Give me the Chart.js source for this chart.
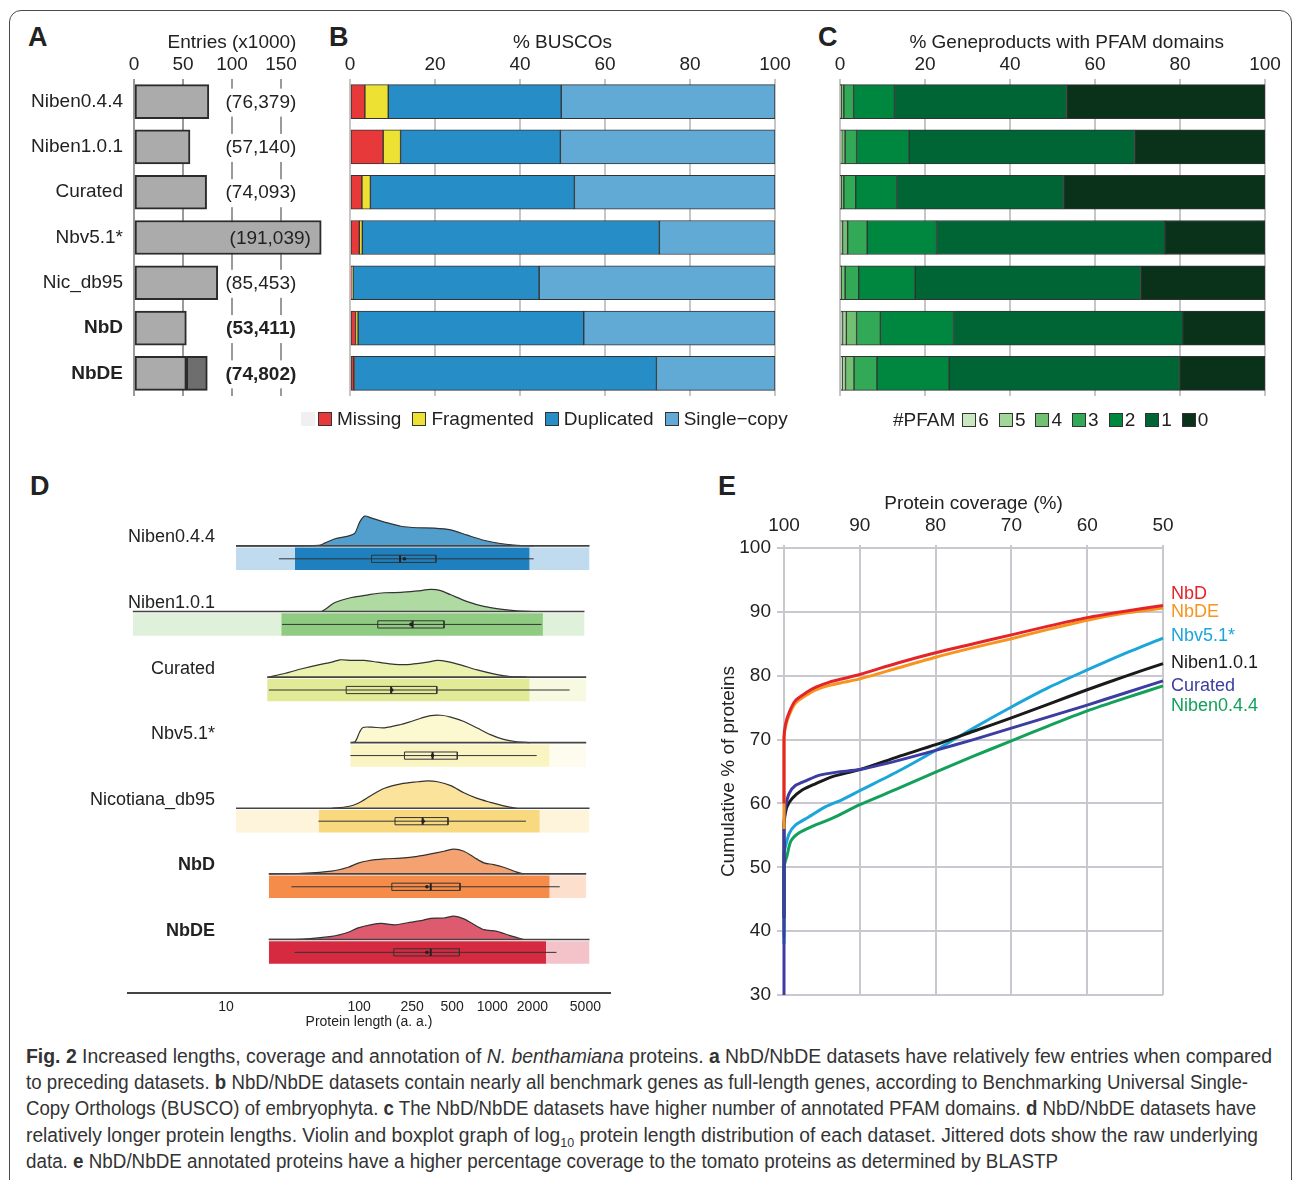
<!DOCTYPE html>
<html>
<head>
<meta charset="utf-8">
<script src="https://cdn.jsdelivr.net/npm/chart.js@4.4.1/dist/chart.umd.min.js"></script>
<style>
  body { margin: 0; background: #fff; }
  #fig { position: relative; width: 1293px; height: 1180px; overflow: hidden; font-family: "Liberation Sans", Arial, sans-serif; color: #222; }
  canvas { position: absolute; }
  .frame { position: absolute; left: 9px; top: 10px; width: 1281px; height: 1200px; border: 1.5px solid #4a4a4a; border-radius: 12px; }
  .letter { position: absolute; font-weight: bold; font-size: 27px; line-height: 1; }
  .legend { position: absolute; display: flex; align-items: center; height: 20px; font-size: 19px; white-space: nowrap; }
  .legend .box { width: 12px; height: 12px; border: 1px solid #333; margin-right: 4px; }
  .legend .item { display: flex; align-items: center; margin-right: 12px; }
  .elabel { position: absolute; font-size: 18px; line-height: 1; transform: translateY(-50%); white-space: nowrap; }
  .cap { position: absolute; left: 26px; white-space: nowrap; font-size: 20px; line-height: 1; color: #333; transform-origin: 0 50%; }
</style>
</head>
<body>
<div id="fig">
  <div class="frame"></div>
  <div class="letter" style="left:28px;top:24px">A</div>
  <div class="letter" style="left:329px;top:24px">B</div>
  <div class="letter" style="left:818px;top:24px">C</div>
  <div class="letter" style="left:30px;top:473px">D</div>
  <div class="letter" style="left:718px;top:473px">E</div>

  <canvas id="chartA" width="320" height="400" style="left:10px;top:20px"></canvas>
  <canvas id="chartB" width="470" height="400" style="left:330px;top:20px"></canvas>
  <canvas id="chartC" width="470" height="400" style="left:820px;top:20px"></canvas>
  <canvas id="chartD" width="594" height="560" style="left:20px;top:475px"></canvas>
  <canvas id="chartE" width="593" height="540" style="left:700px;top:470px"></canvas>

  <div class="legend" id="legendB" style="left:301px;top:409px"></div>
  <div class="legend" id="legendC" style="left:893px;top:410px"></div>
  <div id="labelsE"></div>

  <div class="cap" data-w="1246" style="top:1046px"><b>Fig. 2</b> Increased lengths, coverage and annotation of <i>N. benthamiana</i> proteins. <b>a</b> NbD/NbDE datasets have relatively few entries when compared</div>
  <div class="cap" data-w="1222" style="top:1072px">to preceding datasets. <b>b</b> NbD/NbDE datasets contain nearly all benchmark genes as full-length genes, according to Benchmarking Universal Single-</div>
  <div class="cap" data-w="1230" style="top:1098px">Copy Orthologs (BUSCO) of embryophyta. <b>c</b> The NbD/NbDE datasets have higher number of annotated PFAM domains. <b>d</b> NbD/NbDE datasets have</div>
  <div class="cap" data-w="1232" style="top:1125px">relatively longer protein lengths. Violin and boxplot graph of log<sub style="font-size:13px">10</sub> protein length distribution of each dataset. Jittered dots show the raw underlying</div>
  <div class="cap" data-w="1032" style="top:1151px">data. <b>e</b> NbD/NbDE annotated proteins have a higher percentage coverage to the tomato proteins as determined by BLASTP</div>
</div>

<script>
// ---- datos panel A: entradas por dataset ----
const datasetNames = ["Niben0.4.4", "Niben1.0.1", "Curated", "Nbv5.1*", "Nic_db95", "NbD", "NbDE"];
const entryCounts = [76379, 57140, 74093, 191039, 85453, 53411, 74802];
const nbdPartOfNbDE = 53411;

// ---- datos panel B: BUSCO (%) ----
const buscoCategories = ["Missing", "Fragmented", "Duplicated", "Single\u2212copy"];
const buscoMissing = [3.5, 7.8, 2.8, 2.2, 0.5, 1.3, 0.9];
const buscoFragmented = [5.5, 4.1, 2.0, 0.7, 0.2, 0.6, 0.1];
const buscoDuplicated = [40.7, 37.6, 48.0, 69.9, 43.8, 53.1, 71.1];
const buscoSingle = [50.3, 50.5, 47.2, 27.2, 55.5, 45.0, 27.9];
const buscoColors = ["#e8393a", "#ede234", "#268dc7", "#62aad6"];

// ---- datos panel C: numero de dominios PFAM (%) ----
const pfamClasses = ["6", "5", "4", "3", "2", "1", "0"];
const pfam6 = [0.1, 0.2, 0.1, 0.2, 0.1, 0.6, 0.5];
const pfam5 = [0.2, 0.2, 0.2, 0.4, 0.2, 0.9, 0.8];
const pfam4 = [0.6, 0.8, 0.6, 1.2, 0.9, 2.4, 2.0];
const pfam3 = [2.3, 2.7, 2.8, 4.6, 3.2, 5.6, 5.4];
const pfam2 = [9.6, 12.4, 9.6, 16.3, 13.3, 17.2, 17.0];
const pfam1 = [40.5, 53.0, 39.3, 53.8, 53.0, 54.0, 54.2];
const pfam0 = [46.7, 30.7, 47.4, 23.5, 29.3, 19.3, 20.1];
const pfamColors = ["#c9e8c2", "#a3d79a", "#72c172", "#32a957", "#00873f", "#006534", "#0a3119"];

// ---- datos panel D: longitud de proteinas (a.a.) ----
const groupNames = ["Niben0.4.4", "Niben1.0.1", "Curated", "Nbv5.1*", "Nicotiana_db95", "NbD", "NbDE"];
const lengthTicks = [10, 100, 250, 500, 1000, 2000, 5000];
const violinLengths = [
  [11.9, 49.5, 55.6, 65.9, 82.8, 92.9, 101, 110, 123, 155, 206, 275, 366, 487, 649, 864, 1149, 1528, 2033],
  [52.4, 57.1, 65.9, 87.7, 117, 155, 206, 275, 345, 410, 487, 649, 864, 1149, 1528, 2033],
  [21.0, 28.0, 37.2, 49.5, 62.2, 71.8, 87.7, 110, 138, 185, 245, 327, 388, 460, 578, 770, 1023, 1361, 1811],
  [87.7, 93.8, 101, 107, 124, 155, 206, 245, 291, 345, 410, 487, 612, 770, 967, 1216, 1528, 1920],
  [62.2, 82.8, 98.4, 124, 155, 206, 275, 327, 388, 487, 612, 770, 967, 1216, 1528],
  [21.0, 37.2, 62.2, 82.8, 98.4, 117, 155, 206, 275, 345, 434, 516, 612, 727, 864, 1023, 1216, 1528, 1714],
  [21.0, 37.2, 62.2, 82.8, 98.4, 124, 147, 185, 232, 291, 345, 434, 516, 612, 727, 864, 1084, 1361, 1714]
];
// densidad relativa (1 = pico mas alto)
const violinDensity = [
  [0, 0.02, 0.1, 0.24, 0.33, 0.43, 0.8, 1.0, 0.94, 0.8, 0.66, 0.61, 0.6, 0.54, 0.36, 0.19, 0.08, 0.02, 0],
  [0, 0.11, 0.3, 0.47, 0.56, 0.63, 0.64, 0.69, 0.74, 0.7, 0.56, 0.33, 0.17, 0.08, 0.02, 0],
  [0, 0.13, 0.28, 0.41, 0.5, 0.58, 0.56, 0.56, 0.5, 0.43, 0.43, 0.5, 0.56, 0.52, 0.41, 0.24, 0.11, 0.02, 0],
  [0, 0.04, 0.36, 0.51, 0.52, 0.5, 0.61, 0.71, 0.82, 0.91, 0.92, 0.86, 0.71, 0.49, 0.27, 0.11, 0.03, 0],
  [0, 0.06, 0.17, 0.44, 0.67, 0.82, 0.89, 0.92, 0.89, 0.76, 0.52, 0.33, 0.2, 0.08, 0],
  [0, 0.02, 0.09, 0.22, 0.36, 0.44, 0.5, 0.53, 0.59, 0.67, 0.76, 0.83, 0.76, 0.56, 0.37, 0.31, 0.22, 0.06, 0],
  [0, 0.01, 0.1, 0.24, 0.39, 0.5, 0.54, 0.49, 0.56, 0.63, 0.71, 0.72, 0.78, 0.69, 0.5, 0.33, 0.27, 0.13, 0]
];
const boxQ1 = [124, 138, 80, 219, 186, 176, 182];
const boxMedian = [203, 252, 174, 356, 300, 345, 345];
const boxQ3 = [377, 434, 383, 546, 465, 572, 567];
const boxMean = [219, 245, 176, 356, 303, 323, 323];
const whiskerLo = [25, 26.4, 21, 86, 49.5, 31, 32.8];
const whiskerHi = [2046, 2344, 3810, 2154, 1790, 3208, 3034];
const dotsLo = [33, 26, 20.4, 86, 49.5, 21, 21];
const dotsHi = [1910, 2400, 1910, 2700, 2275, 2700, 2550];
const tailLo = [11.9, 2.0, 20.4, 86, 11.9, 21, 21];
const tailHi = [5370, 4920, 5070, 5070, 5370, 5070, 5370];
const violinFill = ["#529fcd", "#afdba3", "#ebf2ad", "#fcf8d0", "#fbe39b", "#f5a273", "#de5b6f"];
const dotColors = ["#1f80c0", "#8fcb80", "#e1ea96", "#faf4c2", "#f9d980", "#f58c4a", "#d62a40"];

// ---- datos panel E: cobertura vs % acumulado ----
const eNames = ["NbD", "NbDE", "Nbv5.1*", "Niben1.0.1", "Curated", "Niben0.4.4"];
const eColors = ["#e3242b", "#f7941d", "#1ba5da", "#1a1a1a", "#3c3ca2", "#12a05a"];
const covNbD = [100, 100, 99.8, 99.3, 98.5, 97, 95.8, 94, 92, 90, 85, 80, 75, 70, 65, 60, 55, 50];
const cumNbD = [60, 70.3, 72.4, 74.3, 76.1, 77.4, 78.2, 79.0, 79.6, 80.2, 82.0, 83.6, 85.0, 86.4, 87.8, 89.1, 90.1, 91.0];
const covNbDE = [100, 100, 99.8, 99.3, 98.5, 97, 95.8, 94, 92, 90, 85, 80, 75, 70, 65, 60, 55, 50];
const cumNbDE = [56, 70, 72, 73.9, 75.7, 77.0, 77.8, 78.5, 79.0, 79.5, 81.2, 82.9, 84.4, 85.8, 87.3, 88.7, 89.8, 90.6];
const covNbv51 = [100, 100, 99.8, 99.3, 98.5, 96.7, 94.5, 92.3, 90, 85, 80, 75, 70, 65, 60, 55, 50];
const cumNbv51 = [38, 52, 53.3, 55.3, 56.6, 57.9, 59.5, 60.6, 62.0, 65.0, 68.3, 71.8, 75.1, 78.2, 80.9, 83.5, 85.9];
const covNiben101 = [100, 100, 99.9, 99.6, 98.9, 97.6, 95.8, 93.6, 90, 85, 80, 75, 70, 65, 60, 55, 50];
const cumNiben101 = [42, 56.4, 57.9, 59.5, 60.8, 62.1, 63.1, 64.2, 65.3, 67.3, 69.2, 71.3, 73.4, 75.6, 77.8, 79.9, 81.9];
const covCurated = [100, 100, 99.8, 99.3, 98.5, 97, 95.4, 93, 90, 85, 80, 75, 70, 65, 60, 55, 50];
const cumCurated = [30, 57, 59.5, 61.6, 62.8, 63.6, 64.4, 64.9, 65.3, 66.7, 68.3, 70.0, 71.8, 73.6, 75.4, 77.3, 79.2];
const covNiben044 = [100, 100, 99.6, 99.1, 98, 96.3, 93.6, 90, 85, 80, 75, 70, 65, 60, 55, 50];
const cumNiben044 = [39, 50, 51.8, 54.1, 55.4, 56.4, 57.7, 59.8, 62.3, 64.9, 67.4, 69.8, 72.2, 74.5, 76.5, 78.4];
const eLabelY = [593, 611, 635, 662, 685, 705];

Chart.defaults.font.family = '"Liberation Sans", Arial, sans-serif';
Chart.defaults.color = "#222";
Chart.defaults.animation = false;
Chart.defaults.responsive = false;
Chart.defaults.devicePixelRatio = 1;
Chart.defaults.events = [];
Chart.defaults.plugins.legend.display = false;
Chart.defaults.plugins.tooltip.enabled = false;

// fija el tamaño del eje para que el area del grafico quede donde queremos
function fixSize(size) {
  return function (scale) {
    if (scale.isHorizontal()) scale.height = size;
    else scale.width = size;
    scale.paddingLeft = scale.paddingRight = scale.paddingTop = scale.paddingBottom = 0;
  };
}

// ---------- A ----------
const countLabels = {
  id: "countLabels",
  afterDatasetsDraw(chart) {
    const { ctx, scales: { x, y } } = chart;
    ctx.save();
    ctx.textAlign = "center";
    ctx.textBaseline = "middle";
    entryCounts.forEach((v, i) => {
      const text = "(" + v.toLocaleString("en-US") + ")";
      ctx.font = (i >= 5 ? "bold " : "") + '19px "Liberation Sans", Arial';
      const inside = v / 1000 > 150;
      const cx = x.getPixelForValue(inside ? 139 : 129.5);
      const cy = y.getPixelForValue(i) + 1;
      if (!inside) {
        const w = ctx.measureText(text).width;
        ctx.fillStyle = "#fff";
        ctx.fillRect(cx - w / 2 - 3, cy - 14, w + 6, 28);
      }
      ctx.fillStyle = "#222";
      ctx.fillText(text, cx, cy);
    });
    ctx.restore();
  }
};

new Chart(document.getElementById("chartA"), {
  type: "bar",
  data: {
    labels: datasetNames,
    datasets: [
      {
        label: "entries",
        data: entryCounts.map((v, i) => (i === 6 ? nbdPartOfNbDE : v) / 1000),
        backgroundColor: "#ababab", borderColor: "#2b2b2b", borderWidth: 2, borderSkipped: false, barThickness: 34
      },
      {
        label: "extra NbDE",
        data: entryCounts.map((v, i) => (i === 6 ? (v - nbdPartOfNbDE) / 1000 : null)),
        backgroundColor: "#6e6e6e", borderColor: "#2b2b2b", borderWidth: 2, borderSkipped: false, barThickness: 34
      }
    ]
  },
  options: {
    indexAxis: "y",
    layout: { padding: { left: 0, right: 0, top: 0, bottom: 24 } },
    scales: {
      x: {
        position: "top", stacked: true, min: 0, max: 200,
        afterBuildTicks: (s) => { s.ticks = [0, 50, 100, 150].map((v) => ({ value: v })); },
        grid: { color: "#9a9a9a", lineWidth: 2, drawTicks: false },
        border: { display: false },
        ticks: { padding: 3, font: { size: 19 } },
        title: { display: true, text: "Entries (x1000)", font: { size: 19 }, padding: { top: 11.6, bottom: 0 } },
        afterFit: fixSize(59)
      },
      y: {
        stacked: true,
        grid: { display: false, drawTicks: false },
        border: { display: false },
        ticks: { padding: 11, font: (c) => ({ size: 19, weight: c.index >= 5 ? "bold" : "normal" }) },
        afterFit: fixSize(124)
      }
    }
  },
  plugins: [countLabels]
});

// ---------- B y C ----------
function stackedPercentChart(id, names, values, colors, title) {
  return new Chart(document.getElementById(id), {
    type: "bar",
    data: {
      labels: datasetNames,
      datasets: names.map((name, k) => ({
        label: name, data: values[k], backgroundColor: colors[k],
        borderColor: "#333", borderWidth: 1, borderSkipped: false, barThickness: 34
      }))
    },
    options: {
      indexAxis: "y",
      layout: { padding: { left: 20, right: 25, top: 0, bottom: 24 } },
      scales: {
        x: {
          position: "top", stacked: true, min: 0, max: 100,
          ticks: { stepSize: 20, padding: 3, font: { size: 19 } },
          grid: { color: "#c6c6c6", lineWidth: 2, drawTicks: false },
          border: { display: false },
          title: { display: true, text: title, font: { size: 19 }, padding: { top: 11.6, bottom: 0 } },
          afterFit: fixSize(59)
        },
        y: { stacked: true, display: false }
      }
    }
  });
}

stackedPercentChart("chartB", buscoCategories,
  [buscoMissing, buscoFragmented, buscoDuplicated, buscoSingle], buscoColors, "% BUSCOs");
stackedPercentChart("chartC", pfamClasses,
  [pfam6, pfam5, pfam4, pfam3, pfam2, pfam1, pfam0], pfamColors, "\u2002\u2002\u2002% Geneproducts with PFAM domains");

function buildLegend(el, names, colors, textGap, itemGap) {
  names.forEach((name, k) => {
    const item = document.createElement("div");
    item.className = "item";
    item.style.marginRight = itemGap + "px";
    const box = document.createElement("div");
    box.className = "box";
    box.style.background = colors[k];
    box.style.marginRight = textGap + "px";
    item.append(box, document.createTextNode(name));
    el.appendChild(item);
  });
}
const legendB = document.getElementById("legendB");
const blank = document.createElement("div");
blank.style.cssText = "width:14px;height:14px;background:#f0f0f0;margin-right:3px";
legendB.appendChild(blank);
buildLegend(legendB, buscoCategories, buscoColors, 5, 11);
const legendC = document.getElementById("legendC");
const pfamTitle = document.createElement("div");
pfamTitle.textContent = "#PFAM";
pfamTitle.style.marginRight = "7px";
legendC.appendChild(pfamTitle);
buildLegend(legendC, pfamClasses, pfamColors, 2, 10);

// ---------- D ----------
const rowBase = (i) => 0.812 + (6 - i); // posicion vertical de cada grupo
const VIOLIN_H = 0.454, BAND_TOP = 0.026, BAND_BOTTOM = 0.369, BOX_MID = 0.197, BOX_HALF = 0.055;

const layersD = [];
groupNames.forEach((name, i) => {
  const b = rowBase(i);
  const mid = b - BOX_MID;
  const line = (pts, color, width) => ({ data: pts, borderColor: color, borderWidth: width, fill: false, tension: 0 });
  // colas dispersas y banda de puntos
  layersD.push({ data: [{ x: tailLo[i], y: b - BAND_TOP }, { x: dotsLo[i], y: b - BAND_TOP }], borderWidth: 0, fill: { value: b - BAND_BOTTOM }, backgroundColor: dotColors[i] + "48" });
  layersD.push({ data: [{ x: dotsHi[i], y: b - BAND_TOP }, { x: tailHi[i], y: b - BAND_TOP }], borderWidth: 0, fill: { value: b - BAND_BOTTOM }, backgroundColor: dotColors[i] + "48" });
  layersD.push({ data: [{ x: dotsLo[i], y: b - BAND_TOP }, { x: dotsHi[i], y: b - BAND_TOP }], borderWidth: 0, fill: { value: b - BAND_BOTTOM }, backgroundColor: dotColors[i] });
  // violin (media)
  layersD.push({
    data: violinLengths[i].map((L, k) => ({ x: L, y: b + violinDensity[i][k] * VIOLIN_H })),
    borderColor: "#333", borderWidth: 1.2, backgroundColor: violinFill[i], fill: { value: b }, tension: 0.3
  });
  layersD.push(line([{ x: tailLo[i], y: b }, { x: tailHi[i], y: b }], "#444", 1.6));
  // boxplot
  layersD.push(line([{ x: whiskerLo[i], y: mid }, { x: whiskerHi[i], y: mid }], "#333", 1));
  layersD.push(line([
    { x: boxQ1[i], y: mid + BOX_HALF }, { x: boxQ3[i], y: mid + BOX_HALF },
    { x: boxQ3[i], y: mid - BOX_HALF }, { x: boxQ1[i], y: mid - BOX_HALF },
    { x: boxQ1[i], y: mid + BOX_HALF }
  ], "#333", 1));
  layersD.push(line([{ x: boxMedian[i], y: mid + BOX_HALF }, { x: boxMedian[i], y: mid - BOX_HALF }], "#222", 2));
  layersD.push({ data: [{ x: boxMean[i], y: mid }], showLine: false, pointRadius: 1.8, pointBackgroundColor: "#222", pointBorderWidth: 0 });
});

const groupLabels = {
  id: "groupLabels",
  afterDatasetsDraw(chart) {
    const { ctx } = chart;
    const y = chart.scales.y;
    const right = chart.chartArea.left + 87;
    ctx.save();
    ctx.textAlign = "right";
    ctx.textBaseline = "middle";
    ctx.fillStyle = "#222";
    groupNames.forEach((n, i) => {
      ctx.font = (i >= 5 ? "bold " : "") + '18px "Liberation Sans", Arial';
      ctx.fillText(n, right, y.getPixelForValue(rowBase(i) + 0.13));
    });
    ctx.restore();
  }
};

new Chart(document.getElementById("chartD"), {
  type: "line",
  data: { datasets: layersD.reverse() },
  options: {
    elements: { point: { radius: 0 } },
    layout: { padding: { left: 108, right: 0, top: 0, bottom: 0 } },
    scales: {
      x: {
        type: "logarithmic", min: 1.84, max: 7650,
        afterBuildTicks: (s) => { s.ticks = lengthTicks.map((v) => ({ value: v })); },
        ticks: { font: { size: 14 }, padding: 6, autoSkip: false, maxRotation: 0, callback: (v) => String(v) },
        grid: { display: false, drawTicks: false },
        border: { display: true, color: "#444", width: 2 },
        title: { display: true, text: "Protein length (a. a.)", font: { size: 14 }, padding: { top: 0, bottom: 4.6 } },
        afterFit: fixSize(42.3)
      },
      y: { display: false, min: 0, max: 7.832 }
    }
  },
  plugins: [groupLabels]
});

// ---------- E ----------
const eCoverage = [covNbD, covNbDE, covNbv51, covNiben101, covCurated, covNiben044];
const eCumulative = [cumNbD, cumNbDE, cumNbv51, cumNiben101, cumCurated, cumNiben044];
const drawOrder = [0, 1, 4, 3, 2, 5]; // el primero queda encima

new Chart(document.getElementById("chartE"), {
  type: "line",
  data: {
    datasets: drawOrder.map((k) => ({
      label: eNames[k],
      data: eCoverage[k].map((c, j) => ({ x: c, y: eCumulative[k][j] })),
      borderColor: eColors[k], borderWidth: 3, pointRadius: 0, tension: 0.25, fill: false, clip: false
    }))
  },
  options: {
    layout: { padding: { left: 0, right: 130, top: 0, bottom: 15 } },
    scales: {
      x: {
        type: "linear", position: "top", reverse: true, min: 50, max: 100,
        ticks: { stepSize: 10, font: { size: 19 }, padding: 8 },
        grid: { color: "#c8c8ce", lineWidth: 2, tickLength: 3 },
        border: { display: false },
        title: { display: true, text: "Protein coverage (%)", font: { size: 19 }, padding: { top: 22, bottom: 0 } },
        afterFit: fixSize(78)
      },
      y: {
        min: 30, max: 100,
        ticks: { stepSize: 10, font: { size: 19 }, padding: 6 },
        grid: { color: "#c8c8ce", lineWidth: 2, tickLength: 7 },
        border: { display: false },
        title: { display: true, text: "Cumulative % of proteins", font: { size: 19 }, padding: { top: 17, bottom: 0 } },
        afterFit: fixSize(84)
      }
    }
  }
});

const labelsE = document.getElementById("labelsE");
eNames.forEach((n, k) => {
  const d = document.createElement("div");
  d.className = "elabel";
  d.textContent = n;
  d.style.left = "1171px";
  d.style.top = eLabelY[k] + "px";
  d.style.color = eColors[k];
  labelsE.appendChild(d);
});

// ---------- pie de figura: cada linea al ancho del original ----------
document.querySelectorAll(".cap").forEach((c) => {
  const s = Number(c.dataset.w) / c.getBoundingClientRect().width;
  c.style.transform = "scaleX(" + s + ")";
});
</script>
</body>
</html>
